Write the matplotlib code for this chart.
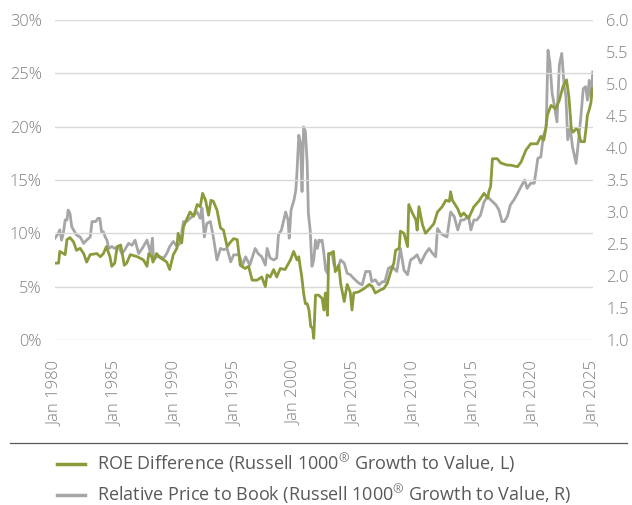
import matplotlib
matplotlib.use('Agg')

import matplotlib.pyplot as plt
from matplotlib.lines import Line2D

plt.rcParams['font.family'] = ['Open Sans', 'DejaVu Sans']
plt.rcParams['font.weight'] = 'light'
plt.rcParams['mathtext.fontset'] = 'custom'
plt.rcParams['mathtext.rm'] = 'Open Sans'
plt.rcParams['mathtext.default'] = 'rm'

# ROE difference, Growth minus Value (%), left axis
roe_years = [1980.0, 1980.3, 1980.4, 1980.7, 1980.85, 1981.0, 1981.25, 1981.55, 1981.8, 1982.1,
             1982.4, 1982.65, 1982.95, 1983.5, 1983.8, 1984.05, 1984.3, 1984.6, 1984.75, 1985.0,
             1985.2, 1985.5, 1985.8, 1986.0, 1986.3, 1986.9, 1987.4, 1987.7, 1987.85, 1988.1,
             1988.2, 1988.5, 1988.8, 1989.1, 1989.35, 1989.6, 1989.9, 1990.2, 1990.3, 1990.6,
             1990.75, 1991.0, 1991.3, 1991.6, 1991.9, 1992.15, 1992.35, 1992.6, 1992.85, 1993.05,
             1993.25, 1993.55, 1993.85, 1994.1, 1994.4, 1994.7, 1994.95, 1995.25, 1995.5, 1995.9,
             1996.2, 1996.5, 1996.9, 1997.3, 1997.6, 1997.75, 1998.0, 1998.3, 1998.55, 1998.85,
             1999.25, 1999.4, 1999.7, 1999.97, 2000.25, 2000.4, 2000.5, 2000.65, 2000.8, 2000.95,
             2001.1, 2001.25, 2001.4, 2001.55, 2001.65, 2001.8, 2002.05, 2002.35, 2002.5, 2002.62,
             2002.8, 2002.9, 2003.05, 2003.3, 2003.45, 2003.75, 2003.9, 2004.2, 2004.45, 2004.7,
             2004.85, 2005.0, 2005.4, 2005.85, 2006.3, 2006.55, 2006.8, 2007.25, 2007.5, 2007.8,
             2008.1, 2008.35, 2008.5, 2008.8, 2008.9, 2009.2, 2009.5, 2009.6, 2009.9, 2010.2,
             2010.3, 2010.45, 2010.75, 2011.0, 2011.4, 2011.7, 2012.0, 2012.4, 2012.7, 2013.0,
             2013.1, 2013.25, 2013.7, 2013.95, 2014.2, 2014.6, 2015.05, 2015.45, 2015.9, 2016.2,
             2016.3, 2016.45, 2016.6, 2017.0, 2017.3, 2017.85, 2018.1, 2018.7, 2019.0, 2019.4,
             2019.8, 2020.35, 2020.65, 2020.9, 2021.05, 2021.2, 2021.5, 2021.9, 2022.2, 2022.5,
             2022.8, 2023.0, 2023.2, 2023.35, 2023.6, 2023.75, 2024.0, 2024.3, 2024.45, 2024.55,
             2024.7, 2024.85, 2024.95, 2025.0]
roe_diff = [7.2, 7.2, 8.3, 8.1, 8.0, 9.4, 9.6, 9.2, 8.4, 8.6,
            8.1, 7.3, 8.0, 8.1, 7.8, 8.1, 8.75, 7.8, 6.9, 7.2,
            8.75, 8.9, 7.0, 7.2, 8.0, 7.8, 7.5, 6.9, 8.1, 7.8,
            7.3, 8.1, 7.7, 7.5, 7.3, 6.6, 8.0, 8.6, 10.0, 9.1,
            10.6, 11.25, 12.0, 11.6, 12.7, 12.5, 13.75, 13.1, 11.7, 13.1,
            13.0, 12.2, 10.5, 10.3, 8.75, 9.2, 9.5, 9.4, 7.0, 6.7,
            6.9, 5.6, 5.6, 5.9, 5.0, 6.1, 5.9, 6.6, 5.9, 6.7,
            6.6, 6.9, 7.5, 8.3, 7.5, 7.8, 7.0, 5.9, 4.4, 3.4,
            3.4, 2.8, 1.25, 1.1, 0.15, 4.2, 4.2, 3.9, 2.8, 4.4,
            2.3, 8.1, 8.1, 8.3, 6.4, 7.0, 5.3, 3.6, 5.2, 4.5,
            2.8, 4.4, 4.5, 4.8, 5.2, 5.0, 4.4, 4.7, 4.8, 5.3,
            6.4, 7.2, 8.4, 8.6, 10.2, 10.0, 8.75, 12.7, 11.9, 11.25,
            10.3, 12.5, 10.8, 10.0, 10.5, 10.9, 12.0, 12.5, 13.1, 13.0,
            13.9, 13.1, 12.3, 11.6, 11.9, 11.4, 12.5, 13.0, 13.75, 13.3,
            13.9, 14.4, 17.0, 17.0, 16.6, 16.4, 16.4, 16.25, 16.7, 17.8,
            18.4, 18.4, 19.1, 18.75, 19.7, 21.1, 22.0, 21.7, 22.5, 23.75,
            24.4, 22.8, 19.8, 19.5, 19.8, 19.7, 18.6, 18.6, 20.0, 21.1,
            21.6, 22.3, 23.6, 23.3]

# Relative price to book, Growth vs Value, right axis
pb_years = [1980.0, 1980.3, 1980.4, 1980.55, 1980.7, 1980.85, 1981.0, 1981.1, 1981.25, 1981.4,
            1981.55, 1981.8, 1982.1, 1982.4, 1982.65, 1982.95, 1983.1, 1983.4, 1983.6, 1983.75,
            1983.9, 1984.05, 1984.2, 1984.35, 1984.5, 1984.75, 1985.0, 1985.3, 1985.6, 1985.85,
            1986.15, 1986.45, 1986.7, 1987.0, 1987.3, 1987.55, 1987.7, 1988.0, 1988.15, 1988.25,
            1988.5, 1988.8, 1989.1, 1989.35, 1989.6, 1989.9, 1990.2, 1990.45, 1990.75, 1991.0,
            1991.3, 1991.6, 1991.9, 1992.15, 1992.3, 1992.5, 1992.7, 1993.0, 1993.25, 1993.55,
            1993.85, 1994.1, 1994.4, 1994.7, 1994.95, 1995.4, 1995.7, 1995.95, 1996.3, 1996.75,
            1997.0, 1997.3, 1997.6, 1997.75, 1998.0, 1998.3, 1998.55, 1998.7, 1998.95, 1999.3,
            1999.5, 1999.6, 1999.75, 2000.0, 2000.15, 2000.25, 2000.4, 2000.55, 2000.67, 2000.8,
            2000.95, 2001.1, 2001.2, 2001.35, 2001.5, 2001.65, 2001.8, 2001.95, 2002.1, 2002.2,
            2002.35, 2002.5, 2002.65, 2002.8, 2002.9, 2003.2, 2003.35, 2003.6, 2003.9, 2004.2,
            2004.45, 2004.7, 2005.0, 2005.4, 2005.7, 2006.0, 2006.35, 2006.5, 2006.8, 2007.1,
            2007.4, 2007.6, 2007.9, 2008.2, 2008.6, 2008.9, 2009.2, 2009.5, 2009.75, 2010.0,
            2010.3, 2010.6, 2011.0, 2011.3, 2011.6, 2011.85, 2012.0, 2012.25, 2012.5, 2012.8,
            2013.1, 2013.4, 2013.7, 2013.95, 2014.2, 2014.6, 2014.8, 2015.05, 2015.3, 2015.6,
            2015.9, 2016.2, 2016.45, 2016.9, 2017.15, 2017.4, 2017.6, 2017.85, 2018.1, 2018.4,
            2018.7, 2019.0, 2019.3, 2019.5, 2019.8, 2020.1, 2020.4, 2020.65, 2020.85, 2021.1,
            2021.25, 2021.4, 2021.6, 2021.75, 2022.0, 2022.2, 2022.4, 2022.6, 2022.75, 2022.9,
            2023.1, 2023.3, 2023.6, 2023.75, 2024.0, 2024.2, 2024.4, 2024.55, 2024.7, 2024.85,
            2025.0]
pb_ratio = [2.59, 2.67, 2.72, 2.56, 2.67, 2.875, 2.875, 3.03, 2.98, 2.77,
            2.72, 2.64, 2.61, 2.51, 2.56, 2.61, 2.85, 2.85, 2.9, 2.9,
            2.69, 2.69, 2.61, 2.56, 2.43, 2.46, 2.43, 2.46, 2.35, 2.41,
            2.51, 2.48, 2.56, 2.35, 2.43, 2.51, 2.56, 2.35, 2.59, 2.25,
            2.30, 2.30, 2.28, 2.35, 2.46, 2.54, 2.46, 2.51, 2.85, 2.85,
            2.9, 2.95, 3.0, 2.9, 3.06, 2.61, 2.82, 2.85, 2.61, 2.25,
            2.43, 2.41, 2.43, 2.22, 2.33, 2.33, 2.17, 2.30, 2.17, 2.43,
            2.35, 2.30, 2.17, 2.43, 2.28, 2.25, 2.28, 2.64, 2.72, 3.0,
            2.875, 2.59, 3.03, 3.19, 3.34, 3.63, 4.2, 4.07, 3.32, 4.33,
            4.26, 3.76, 2.98, 2.72, 2.15, 2.25, 2.56, 2.43, 2.56, 2.54,
            2.56, 2.35, 2.09, 2.04, 2.35, 2.33, 2.17, 2.09, 2.25, 2.2,
            2.04, 2.02, 1.96, 1.89, 1.86, 2.07, 2.07, 1.91, 1.94, 1.86,
            1.91, 1.91, 2.12, 2.15, 2.07, 2.43, 2.09, 2.02, 2.25, 2.28,
            2.33, 2.2, 2.35, 2.43, 2.35, 2.30, 2.74, 2.67, 2.64, 2.61,
            3.0, 2.93, 2.72, 2.875, 2.875, 2.93, 2.72, 2.875, 2.875, 2.95,
            3.16, 3.24, 3.19, 3.11, 3.03, 2.85, 2.85, 2.93, 3.11, 3.19,
            3.29, 3.40, 3.5, 3.37, 3.45, 3.45, 3.84, 3.86, 4.18, 4.33,
            5.53, 5.35, 4.85, 4.7, 4.41, 5.3, 5.48, 4.98, 4.8, 4.13,
            4.33, 4.02, 3.76, 4.02, 4.49, 4.93, 4.96, 4.75, 5.06, 4.78,
            5.19]

x_ticks = list(range(1980, 2026, 5))
x_labels = ['Jan %d' % y for y in x_ticks]
left_ticks = [0, 5, 10, 15, 20, 25, 30]
right_ticks = [1.0, 1.5, 2.0, 2.5, 3.0, 3.5, 4.0, 4.5, 5.0, 5.5, 6.0]

green = '#8c9a3c'
grey = '#a6a6a6'
label_col = '#7f7f7f'

fig = plt.figure(figsize=(6.32, 5.05), dpi=100)
ax = fig.add_axes([0.087, 0.327, 0.851, 0.633])
ax2 = ax.twinx()

ax.plot(roe_years, roe_diff, color=green, lw=2.0, zorder=3)
ax2.plot(pb_years, pb_ratio, color=grey, lw=2.0, zorder=2)
ax.set_zorder(ax2.get_zorder() + 1)
ax.patch.set_visible(False)

ax.set_xlim(1980, 2025)
ax.set_ylim(0, 30)
ax2.set_ylim(1.0, 6.0)

ax.set_yticks(left_ticks)
ax.set_yticklabels(['%d%%' % v for v in left_ticks])
ax2.set_yticks(right_ticks)
ax2.set_yticklabels(['%.1f' % v for v in right_ticks])
ax.set_xticks(x_ticks)
ax.set_xticklabels(x_labels, rotation=90)

ax.grid(axis='y', color='#d9d9d9', lw=1.0)
ax.set_axisbelow(True)

for a in (ax, ax2):
    for s in a.spines.values():
        s.set_visible(False)
    a.tick_params(length=0, labelsize=11.8, labelcolor=label_col)
ax.tick_params(axis='x', labelsize=12)
ax.tick_params(axis='y', pad=9.5)
ax.tick_params(axis='x', pad=15)
ax2.tick_params(axis='y', pad=9.5)

# separator line above legend
fig.add_artist(Line2D([0.016, 0.992], [0.123, 0.123], color='#595959', lw=0.9))

handles = [Line2D([], [], color=green, lw=2.5), Line2D([], [], color=grey, lw=2.5)]
labels = ['ROE Difference (Russell 1000$^{\u00ae}$ Growth to Value, L)',
          'Relative Price to Book (Russell 1000$^{\u00ae}$ Growth to Value, R)']
fig.legend(handles, labels, loc='upper left', bbox_to_anchor=(0.09, 0.106),
           frameon=False, prop={'size': 13, 'weight': 'normal'},
           handlelength=1.55, handletextpad=0.67,
           labelspacing=0.4, labelcolor='#595959', borderaxespad=0, borderpad=0)

fig.savefig('out.png', dpi=100)
